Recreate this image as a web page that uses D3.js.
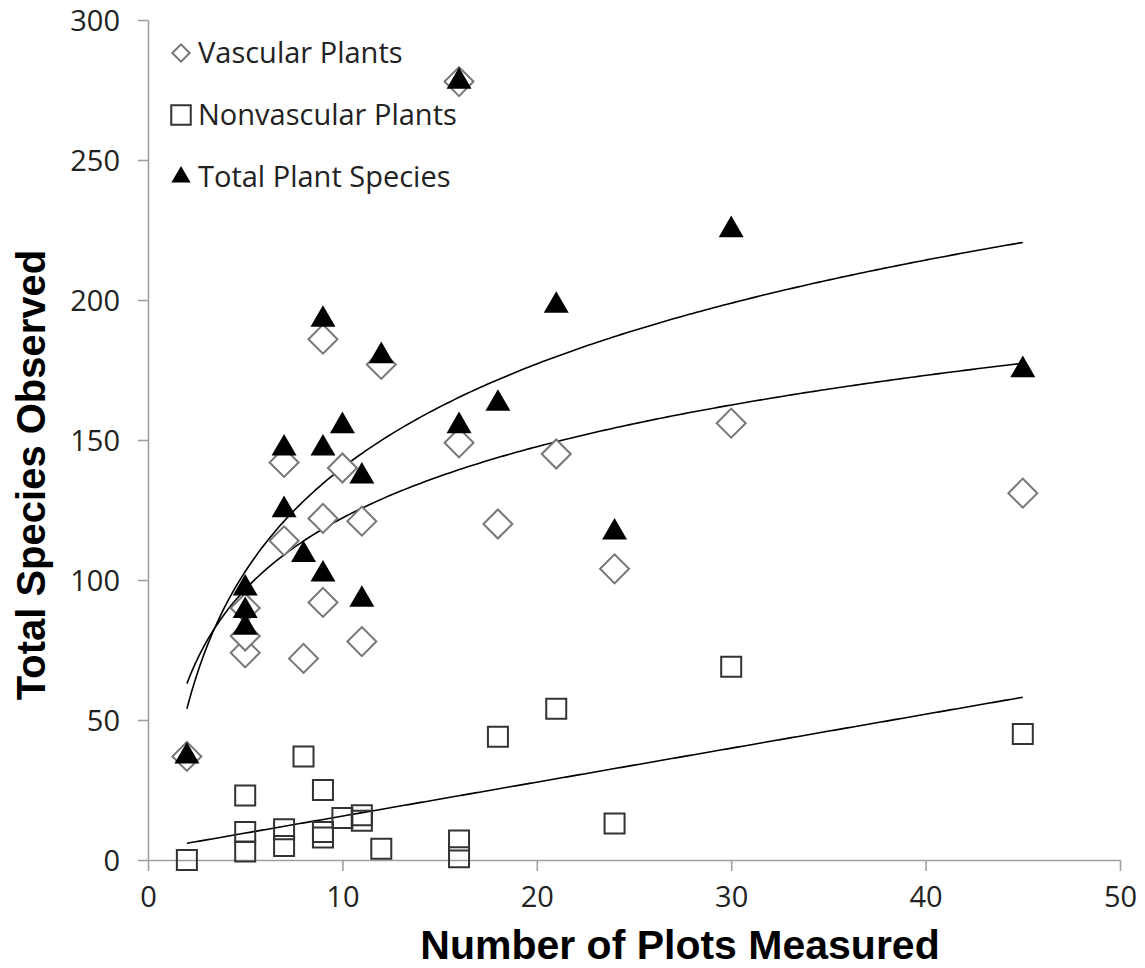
<!DOCTYPE html>
<html>
<head>
<meta charset="utf-8">
<script src="https://cdn.jsdelivr.net/npm/d3@7"></script>
<style>
  body { margin: 0; background: #fff; }
  svg { display: block; }
  .tick text { font-family: "Open Sans", sans-serif; font-size: 29px; fill: #222; }
  .legend text { font-family: "Open Sans", sans-serif; font-size: 29px; fill: #222; }
  .axis-title { font-family: "Liberation Sans", Arial, sans-serif; font-weight: bold; fill: #000; }
</style>
</head>
<body>
<div id="chart"></div>
<script>
// data
const plotsMeasured = [2, 5, 5, 5, 7, 7, 8, 9, 9, 9, 10, 11, 11, 12, 16, 16, 18, 21, 24, 30, 45];
const vascular      = [37, 74, 80, 90, 142, 114, 72, 186, 122, 92, 140, 121, 78, 177, 278, 149, 120, 145, 104, 156, 131];
const nonvascular   = [0, 23, 10, 3, 11, 5, 37, 25, 10, 8, 15, 16, 14, 4, 7, 1, 44, 54, 13, 69, 45];
const totalSpecies  = [37, 97, 89, 83, 147, 125, 109, 193, 147, 102, 155, 137, 93, 180, 278, 155, 163, 198, 117, 225, 175];

const xTicks = [0, 10, 20, 30, 40, 50];
const yTicks = [0, 50, 100, 150, 200, 250, 300];
const legendLabels = ["Vascular Plants", "Nonvascular Plants", "Total Plant Species"];

const width = 1145;
const height = 968;
const margin = { top: 20, right: 25, bottom: 108, left: 148 };

const svg = d3.select("#chart")
    .append("svg")
    .attr("width", width)
    .attr("height", height);

const x = d3.scaleLinear().domain([0, 50]).range([margin.left, width - margin.right]);
const y = d3.scaleLinear().domain([0, 300]).range([height - margin.bottom, margin.top]);

// axes
const xAxis = svg.append("g")
    .attr("transform", `translate(0,${y(0)})`)
    .call(d3.axisBottom(x).tickValues(xTicks).tickSize(11).tickPadding(10).tickSizeOuter(0));
const yAxis = svg.append("g")
    .attr("transform", `translate(${x(0)},0)`)
    .call(d3.axisLeft(y).tickValues(yTicks).tickSize(10).tickPadding(18).tickSizeOuter(0));

[xAxis, yAxis].forEach(a => {
    a.select(".domain").attr("stroke", "#a0a0a0").attr("stroke-width", 1.6);
    a.selectAll(".tick line").attr("stroke", "#a0a0a0").attr("stroke-width", 1.6);
});
xAxis.selectAll(".tick text").attr("dy", "0.88em");
yAxis.selectAll(".tick text").attr("dy", "0.36em");

// axis titles
svg.append("text")
    .attr("class", "axis-title")
    .attr("x", 680)
    .attr("y", 959)
    .attr("font-size", 41)
    .attr("text-anchor", "middle")
    .text("Number of Plots Measured");

svg.append("text")
    .attr("class", "axis-title")
    .attr("transform", "translate(45,475) rotate(-90)")
    .attr("font-size", 40)
    .attr("text-anchor", "middle")
    .text("Total Species Observed");

// trend lines (least squares, like the spreadsheet trendlines)
function logFit(xs, ys) {
    const u = xs.map(Math.log);
    const mu = d3.mean(u), my = d3.mean(ys);
    const a = d3.sum(u, (d, i) => (d - mu) * (ys[i] - my)) / d3.sum(u, d => (d - mu) ** 2);
    return v => a * Math.log(v) + (my - a * mu);
}
function linFit(xs, ys) {
    const mx = d3.mean(xs), my = d3.mean(ys);
    const a = d3.sum(xs, (d, i) => (d - mx) * (ys[i] - my)) / d3.sum(xs, d => (d - mx) ** 2);
    return v => a * v + (my - a * mx);
}

const [xMin, xMax] = d3.extent(plotsMeasured);
const samples = d3.range(0, 201).map(i => xMin + (xMax - xMin) * i / 200);
const line = d3.line().x(d => x(d[0])).y(d => y(d[1]));

const fits = [
    logFit(plotsMeasured, vascular),
    linFit(plotsMeasured, nonvascular),
    logFit(plotsMeasured, totalSpecies)
];

const gTrend = svg.append("g").attr("class", "trend");
fits.forEach(f => {
    gTrend.append("path")
        .attr("d", line(samples.map(v => [v, f(v)])))
        .attr("fill", "none")
        .attr("stroke", "#000")
        .attr("stroke-width", 1.6);
});

// markers
const diamond = d3.symbol().type(d3.symbolSquare).size(420);
const square = d3.symbol().type(d3.symbolSquare).size(400);
const triangle = d3.symbol().type(d3.symbolTriangle).size(270);

const points = (ys) => plotsMeasured.map((p, i) => ({ x: p, y: ys[i] }));

svg.append("g").selectAll("path")
    .data(points(vascular))
    .enter()
    .append("path")
    .attr("d", diamond)
    .attr("transform", d => `translate(${x(d.x)},${y(d.y)}) rotate(45)`)
    .attr("fill", "#fff")
    .attr("stroke", "#777")
    .attr("stroke-width", 2);

svg.append("g").selectAll("path")
    .data(points(nonvascular))
    .enter()
    .append("path")
    .attr("d", square)
    .attr("transform", d => `translate(${x(d.x)},${y(d.y)})`)
    .attr("fill", "none")
    .attr("stroke", "#333")
    .attr("stroke-width", 2);

svg.append("g").selectAll("path")
    .data(points(totalSpecies))
    .enter()
    .append("path")
    .attr("d", triangle)
    .attr("transform", d => `translate(${x(d.x)},${y(d.y)})`)
    .attr("fill", "#000");

// legend
const legend = svg.append("g").attr("class", "legend");
const legendSymbols = [
    { d: d3.symbol().type(d3.symbolSquare).size(150)(), rot: 45, fill: "#fff", stroke: "#777" },
    { d: d3.symbol().type(d3.symbolSquare).size(380)(), rot: 0, fill: "#fff", stroke: "#333" },
    { d: d3.symbol().type(d3.symbolTriangle).size(160)(), rot: 0, fill: "#000", stroke: "none" }
];
legendLabels.forEach((label, i) => {
    const ly = 53 + i * 62;
    const s = legendSymbols[i];
    legend.append("path")
        .attr("d", s.d)
        .attr("transform", `translate(181,${ly}) rotate(${s.rot})`)
        .attr("fill", s.fill)
        .attr("stroke", s.stroke)
        .attr("stroke-width", 2);
    legend.append("text")
        .attr("x", 198)
        .attr("y", ly)
        .attr("dy", "0.36em")
        .text(label);
});
</script>
</body>
</html>
